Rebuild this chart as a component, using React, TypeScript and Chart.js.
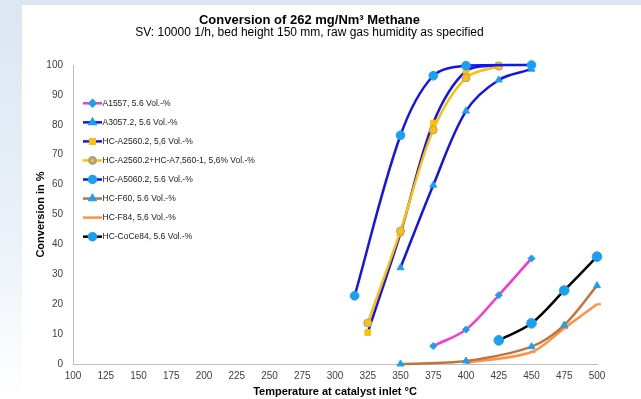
import React, { useEffect, useRef } from "react";
import { Chart, registerables } from "chart.js";
import { drawPoint } from "chart.js/helpers";

Chart.register(...registerables);

// ---- data ----
const xTickStep = 25;
const yTickStep = 10;

const a1557Temps = [375, 400, 425, 450];
const a1557Values = [6, 11.5, 23, 35.3];

const a3057Temps = [350, 375, 400, 425, 450];
const a3057Values = [32.2, 59.8, 84.6, 95, 98.6];

const hcA2560Temps = [325, 350, 375, 400, 425];
const hcA2560Values = [10.5, 43.8, 80.6, 98, 100];

const hcA2560A7Temps = [325, 350, 375, 400, 425];
const hcA2560A7Values = [13.7, 44.5, 78.3, 95.7, 99.6];

const hcA5060Temps = [315, 350, 375, 400, 450];
const hcA5060Values = [22.8, 76.5, 96.4, 99.8, 100];

const hcF60Temps = [350, 400, 450, 475, 500];
const hcF60Values = [0, 1, 5.8, 13, 26.2];

const hcF84Temps = [400, 450, 475, 500];
const hcF84Values = [0.4, 4, 12, 20];

const hcCoCe84Temps = [425, 450, 475, 500];
const hcCoCe84Values = [7.9, 13.6, 24.6, 35.9];

const seriesLabels = [
  "A1557, 5.6 Vol.-%",
  "A3057.2, 5.6 Vol.-%",
  "HC-A2560.2, 5,6 Vol.-%",
  "HC-A2560.2+HC-A7,560-1, 5,6% Vol.-%",
  "HC-A5060.2, 5.6 Vol.-%",
  "HC-F60, 5.6 Vol.-%",
  "HC-F84, 5,6 Vol.-%",
  "HC-CoCe84, 5.6 Vol.-%",
];

const FONT = "'Liberation Sans', Arial, sans-serif";
const MARK = "#1aa0f2";
const BLUE = "#1414f0";

const pts = (xs: number[], ys: number[]) => xs.map((x, i) => ({ x, y: ys[i] }));

const legendPlugin = {
  id: "insideLegend",
  afterDraw(chart: any) {
    const ctx = chart.ctx as CanvasRenderingContext2D;
    const ca = chart.chartArea;
    const x0 = ca.left + 10;
    const y0 = ca.top + 38.3;
    const dy = 19.05;
    chart.data.datasets.forEach((ds: any, i: number) => {
      const y = y0 + i * dy;
      ctx.save();
      ctx.strokeStyle = ds.borderColor;
      ctx.lineWidth = 2.5;
      ctx.beginPath();
      ctx.moveTo(x0, y);
      ctx.lineTo(x0 + 19, y);
      ctx.stroke();
      if (ds.legendMarker) {
        ctx.fillStyle = ds.pointBackgroundColor;
        ctx.strokeStyle = ds.pointBorderColor;
        drawPoint(
          ctx,
          { pointStyle: ds.pointStyle, radius: ds.legendRadius, borderWidth: ds.pointBorderWidth, rotation: 0 } as any,
          x0 + 9.5,
          y
        );
      }
      ctx.fillStyle = "#202020";
      ctx.font = `8.5px ${FONT}`;
      ctx.textBaseline = "middle";
      ctx.textAlign = "left";
      ctx.fillText(ds.label, x0 + 19.5, y + 0.5);
      ctx.restore();
    });
  },
};

function makeDataset(
  label: string,
  data: { x: number; y: number }[],
  line: string,
  style: string,
  radius: number,
  fill: string,
  border: string,
  bw: number,
  order: number,
  legendRadius: number
) {
  return {
    label,
    data,
    borderColor: line,
    backgroundColor: line,
    borderWidth: 2.5,
    tension: 0.33,
    clip: false,
    pointStyle: style,
    pointRadius: radius,
    pointHoverRadius: radius,
    pointBackgroundColor: fill,
    pointBorderColor: border,
    pointBorderWidth: bw,
    order,
    legendMarker: radius > 0,
    legendRadius,
  };
}

export default function App() {
  const ref = useRef<HTMLCanvasElement | null>(null);

  useEffect(() => {
    if (!ref.current) return;
    const chart = new Chart(ref.current, {
      type: "line",
      data: {
        datasets: [
          makeDataset(seriesLabels[0], pts(a1557Temps, a1557Values), "#ff33cc", "rectRot", 3.5, MARK, MARK, 1, 3, 3),
          makeDataset(seriesLabels[1], pts(a3057Temps, a3057Values), BLUE, "triangle", 4, MARK, MARK, 1, 4, 3.2),
          makeDataset(seriesLabels[2], pts(hcA2560Temps, hcA2560Values), BLUE, "rect", 4, "#ffc000", "#ffc000", 1, 6, 3.2),
          makeDataset(seriesLabels[3], pts(hcA2560A7Temps, hcA2560A7Values), "#ffc000", "circle", 4, "#ffc000", "#a0a0a0", 1, 5, 3.2),
          makeDataset(seriesLabels[4], pts(hcA5060Temps, hcA5060Values), BLUE, "circle", 4.3, MARK, MARK, 1, 2, 3.5),
          makeDataset(seriesLabels[5], pts(hcF60Temps, hcF60Values), "#c0753a", "triangle", 4, MARK, MARK, 1, 7, 3),
          makeDataset(seriesLabels[6], pts(hcF84Temps, hcF84Values), "#ff9147", "dash", 4, "#ff9147", "#ff9147", 2, 8, 0),
          makeDataset(seriesLabels[7], pts(hcCoCe84Temps, hcCoCe84Values), "#000000", "circle", 4.8, MARK, MARK, 1, 1, 3.5),
        ] as any,
      },
      options: {
        animation: false,
        responsive: false,
        devicePixelRatio: 1,
        layout: { padding: { top: 0, right: 44, left: 0, bottom: 0 } },
        plugins: {
          legend: { display: false },
          tooltip: { enabled: false },
          title: {
            display: true,
            text: "Conversion of 262 mg/Nm³ Methane",
            color: "#000",
            font: { family: FONT, size: 13, weight: "bold", lineHeight: 1 },
            padding: { top: 8.5, bottom: 0 },
          },
          subtitle: {
            display: true,
            text: "SV: 10000 1/h, bed height 150 mm, raw gas humidity as specified",
            color: "#000",
            font: { family: FONT, size: 12, lineHeight: 1 },
            padding: { top: 0, bottom: 26.5 },
          },
        },
        scales: {
          x: {
            type: "linear",
            min: 100,
            max: 500,
            grid: { display: false, drawTicks: false },
            border: { display: true, color: "#bfbfbf", width: 1 },
            ticks: {
              stepSize: xTickStep,
              color: "#404040",
              padding: 6,
              maxRotation: 0,
              autoSkip: false,
              font: { family: FONT, size: 10 },
            },
            title: {
              display: true,
              text: "Temperature at catalyst inlet °C",
              color: "#000",
              font: { family: FONT, size: 11, weight: "bold" },
              padding: { top: 0, bottom: 0 },
            },
            afterFit: (s: any) => {
              s.height = 35;
            },
          },
          y: {
            type: "linear",
            min: 0,
            max: 100,
            grid: { display: false, drawTicks: false },
            border: { display: true, color: "#bfbfbf", width: 1 },
            ticks: {
              stepSize: yTickStep,
              color: "#404040",
              padding: 10,
              font: { family: FONT, size: 10 },
            },
            title: {
              display: true,
              text: "Conversion in %",
              color: "#000",
              font: { family: FONT, size: 11, weight: "bold" },
              padding: { top: 12.5, bottom: 0 },
            },
            afterFit: (s: any) => {
              s.width = 51;
            },
          },
        },
      },
      plugins: [legendPlugin],
    } as any);
    return () => chart.destroy();
  }, []);

  return (
    <div
      style={{
        position: "fixed",
        left: 0,
        top: 0,
        width: 641,
        height: 399,
        background: "linear-gradient(to bottom, #dbe6f3 0%, #e9f0f8 55%, #ffffff 100%)",
        overflow: "hidden",
      }}
    >
      <div style={{ position: "absolute", left: 22, top: 5, width: 619, height: 394, background: "#fff" }}>
        <canvas ref={ref} width={619} height={394} style={{ display: "block", width: 619, height: 394 }} />
      </div>
    </div>
  );
}
